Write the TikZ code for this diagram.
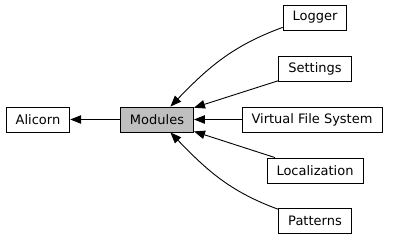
\documentclass[tikz,border=0pt]{standalone}
\usepackage{fontspec}
\setmainfont{DejaVu Sans}
\usetikzlibrary{arrows.meta}

\begin{document}
\begin{tikzpicture}[
  x=1pt, y=1pt,
  box/.style = {draw, line width=0.9pt, fill=white, inner xsep=9.5pt,
                minimum height=25pt, font=\fontsize{13}{15}\selectfont},
  grp/.style = {box, fill=black!25},
  arr/.style = {-{Triangle[length=11pt, width=8.5pt]}, line width=0.9pt},
]
\useasboundingbox (0,0) rectangle (393,-240);

% ---- current group and its parent -------------------------------------------
\node[box] (alicorn) at (38,-119.5)  {Alicorn};
\node[grp] (mod)     at (157,-119.5) {Modules};

% ---- member groups (right column) --------------------------------------------
\node[box] (logger)   at (315,-17.5)  {Logger};
\node[box] (settings) at (315,-69)    {Settings};
\node[box] (vfs)      at (312,-119.5) {Virtual File System};
\node[box] (loc)      at (315,-170.5) {Localization};
\node[box] (patterns) at (315,-220.5) {Patterns};

% modules -> parent
\draw[arr] (mod) -- (alicorn);
% members -> modules
\draw[arr] (logger.197) to[out=200, in=46] (mod.44);
\draw[arr] (settings) -- (mod);
\draw[arr] (vfs) -- (mod);
\draw[arr] (loc) -- (mod);
\draw[arr] (patterns.163) to[out=160, in=-46] (mod.-44);

\end{tikzpicture}
\end{document}
